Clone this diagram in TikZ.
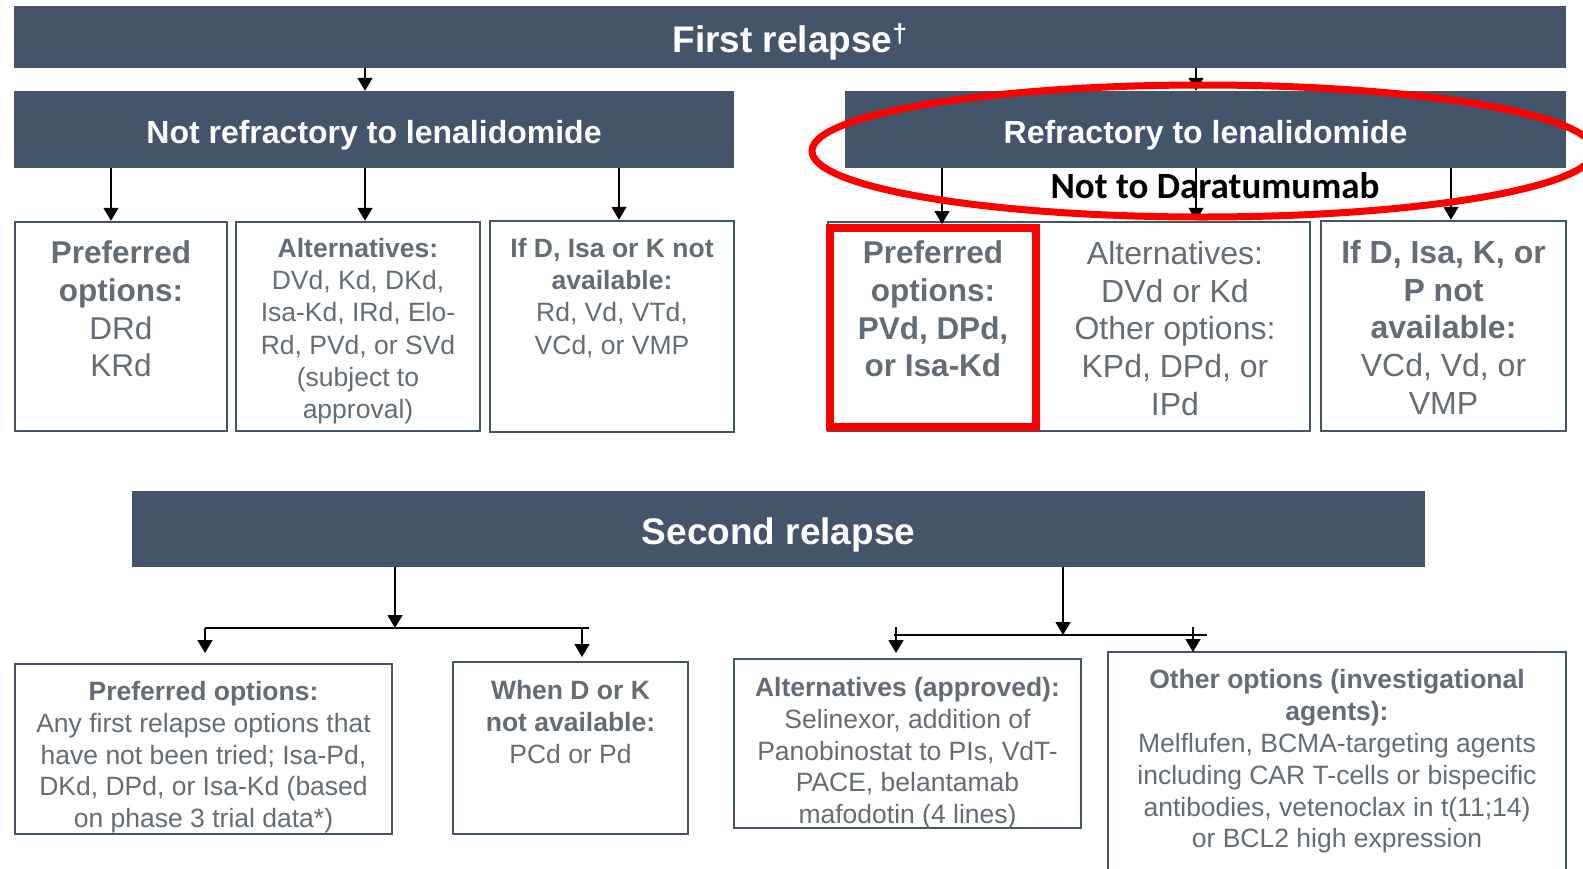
\documentclass[tikz,border=0pt]{standalone}
\usepackage{fontspec}
\setmainfont{Liberation Sans}
\newfontfamily\notefont{Carlito}
\usetikzlibrary{arrows.meta}
\definecolor{slate}{HTML}{44546A}
\definecolor{txt}{RGB}{100,108,118}
\definecolor{hired}{RGB}{255,0,0}
\newcommand{\fsz}[2]{\fontsize{#1}{#2}\selectfont}

\begin{document}
\begin{tikzpicture}[x=1pt,y=-1pt,
  banner/.style={fill=slate, draw=none, inner sep=0pt},
  bannertext/.style={text=white, font=\bfseries, inner sep=0pt, anchor=base},
  optbox/.style={draw=slate, line width=2.5pt, fill=white, inner sep=0pt},
  redbox/.style={draw=hired, line width=8pt, inner sep=0pt},
  opttext/.style={text=txt, align=center, inner sep=0pt, anchor=north},
  small/.style={font=\fsz{26.5}{32.2}},
  smalltight/.style={font=\fsz{26.5}{31.8}},
  large/.style={font=\fsz{31.5}{37.8}},
  link/.style={line width=1.5pt, -{Triangle[width=15pt,length=13pt]}},
  bar/.style={line width=1.5pt},
]
\useasboundingbox (0,0) rectangle (1583,868);
\clip (0,0) rectangle (1583,868);
\fill[white] (0,0) rectangle (1583,868);

% ---------- first relapse ----------
\node[banner, minimum width=1552pt, minimum height=62pt] (first) at (790,37) {};
\node[bannertext, font=\fsz{37}{44}\bfseries] (firstlbl) at (790,52) {First relapse\textsuperscript{†}};

\node[banner, minimum width=720pt, minimum height=77pt] (notref) at (374,129.5) {};
\node[bannertext, font=\fsz{32}{38}\bfseries] (notreflbl) at (374,143.5) {Not refractory to lenalidomide};

\node[banner, minimum width=721pt, minimum height=77pt] (ref) at (1205.5,129.5) {};
\node[bannertext, font=\fsz{32}{38}\bfseries] (reflbl) at (1205.5,143.5) {Refractory to lenalidomide};

% option boxes, not refractory
\node[optbox, minimum width=212pt, minimum height=209pt] (b1) at (121,326.5) {};
\node[opttext, large] (b1t) at (121,240.5) {\textbf{Preferred}\\\textbf{options:}\\DRd\\KRd};

\node[optbox, minimum width=244pt, minimum height=209pt] (b2) at (358,326.5) {};
\node[opttext, small] (b2t) at (358,238) {\textbf{Alternatives:}\\DVd, Kd, DKd,\\Isa-Kd, IRd, Elo-\\Rd, PVd, or SVd\\(subject to\\approval)};

\node[optbox, minimum width=244pt, minimum height=211pt] (b3) at (612,326.5) {};
\node[opttext, small] (b3t) at (612,238) {\textbf{If D, Isa or K not}\\\textbf{available:}\\Rd, Vd, VTd,\\VCd, or VMP};

% option boxes, refractory
\node[optbox, minimum width=482pt, minimum height=209pt] (r2) at (1069,326.5) {};
\node[redbox, minimum width=206pt, minimum height=199pt] (r1) at (933,327.5) {};
\node[opttext, large] (r1t) at (933,240.5) {\textbf{Preferred}\\\textbf{options:}\\\textbf{PVd, DPd,}\\\textbf{or Isa-Kd}};
\node[opttext, font=\fsz{32}{37.8}] (r2t) at (1175,241) {Alternatives:\\DVd or Kd\\Other options:\\KPd, DPd, or\\IPd};

\node[optbox, minimum width=245pt, minimum height=210pt] (r3) at (1443.5,326) {};
\node[opttext, font=\fsz{32}{37.8}] (r3t) at (1443.5,240) {\textbf{If D, Isa, K, or}\\\textbf{P not}\\\textbf{available:}\\VCd, Vd, or\\VMP};

% arrow columns
\coordinate (xa) at (365,0);
\coordinate (xb) at (1196,0);
\coordinate (x1) at (111,0);
\coordinate (x2) at (365,0);
\coordinate (x3) at (619,0);
\coordinate (x4) at (942,0);
\coordinate (x5) at (1196,0);
\coordinate (x6) at (1451,0);

\draw[link] (first.south -| xa) -- (notref.north -| xa);
\draw[link] (first.south -| xb) -- (ref.north -| xb);
\draw[link] (notref.south -| x1) -- (b1.north -| x1);
\draw[link] (notref.south -| x2) -- (b2.north -| x2);
\draw[link] (notref.south -| x3) -- (b3.north -| x3);
\draw[link] (ref.south -| x4) -- (r1.north -| x4);
\draw[link] (ref.south -| x5) -- (r2.north -| x5);
\draw[link] (ref.south -| x6) -- (r3.north -| x6);

% ---------- second relapse ----------
\node[banner, minimum width=1293pt, minimum height=76pt] (second) at (778.5,529) {};
\node[bannertext, font=\fsz{37}{44}\bfseries] (secondlbl) at (778.5,544) {Second relapse};

\node[optbox, minimum width=377pt, minimum height=170pt] (ba) at (203.5,749) {};
\node[opttext, smalltight] (bat) at (203.5,681) {\textbf{Preferred options:}\\Any first relapse options that\\have not been tried; Isa-Pd,\\DKd, DPd, or Isa-Kd (based\\on phase 3 trial data*)};

\node[optbox, minimum width=235pt, minimum height=172pt] (bb) at (570.5,748) {};
\node[opttext, smalltight] (bbt) at (570.5,680) {\textbf{When D or K}\\\textbf{not available:}\\PCd or Pd};

\node[optbox, minimum width=347pt, minimum height=169pt] (bc) at (907.5,743.5) {};
\node[opttext, smalltight] (bct) at (907.5,677) {\textbf{Alternatives (approved):}\\Selinexor, addition of\\Panobinostat to PIs, VdT-\\PACE, belantamab\\mafodotin (4 lines)};

\node[optbox, minimum width=458pt, minimum height=238pt] (bd) at (1337,771) {};
\node[opttext, smalltight] (bdt) at (1337,669.5) {\textbf{Other options (investigational}\\\textbf{agents):}\\Melflufen, BCMA-targeting agents\\including CAR T-cells or bispecific\\antibodies, vetenoclax in t(11;14)\\or BCL2 high expression};

% left fork
\coordinate (jl) at (395,628);
\coordinate (jla) at (205,628);
\coordinate (jlb) at (589,628);
\coordinate (jlc) at (582,628);
\coordinate (tla) at (205,653);
\coordinate (tlb) at (582,657);
\draw[link] (second.south -| jl) -- (jl);
\draw[bar] (jla) -- (jlb);
\draw[link] (jla) -- (tla);
\draw[link] (jlc) -- (tlb);

% right fork
\coordinate (jr) at (1063,635);
\coordinate (jra) at (894,635);
\coordinate (jrb) at (1207,635);
\coordinate (sra) at (896,627);
\coordinate (srb) at (1193,627);
\coordinate (tra) at (896,653);
\coordinate (trb) at (1193,652);
\draw[link] (second.south -| jr) -- (jr);
\draw[bar] (jra) -- (jrb);
\draw[link] (sra) -- (tra);
\draw[link] (srb) -- (trb);

% ---------- highlight ----------
\node[font=\notefont\fsz{37}{44}\bfseries, text=black, inner sep=0pt, anchor=base] (note) at (1215,198) {Not to Daratumumab};
\draw[draw=hired, line width=7pt] (1203,151) ellipse [x radius=391pt, y radius=66pt];
\end{tikzpicture}
\end{document}
